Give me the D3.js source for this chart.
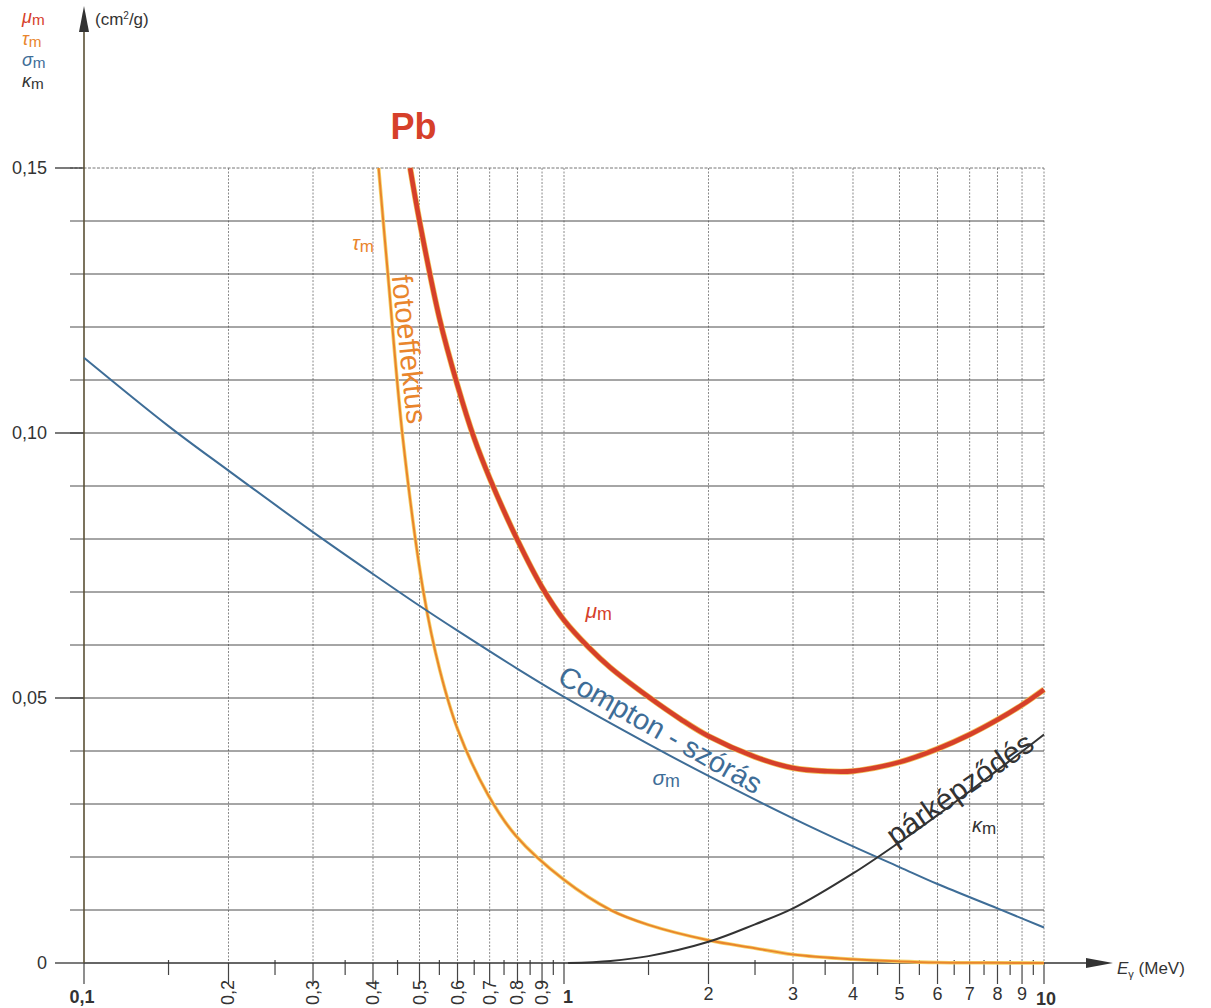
<!DOCTYPE html>
<html><head><meta charset="utf-8">
<script src="https://cdn.jsdelivr.net/npm/d3@7"></script>
<style>body{margin:0;background:#fff}svg{display:block;font-family:"Liberation Sans",Arial,sans-serif}</style>
</head><body><svg id="c" width="1211" height="1008"></svg>
<script>
// ---- data ----
const muE  = [0.478,0.5,0.55,0.6,0.65,0.7,0.8,0.9,1.0,1.13,1.25,1.5,1.75,2.0,2.5,3.0,3.5,4.0,5.0,6.0,7.0,8.0,9.0,10];
const muV  = [0.150,0.140,0.1217,0.109,0.099,0.0915,0.0798,0.0709,0.0647,0.0594,0.0557,0.0502,0.0460,0.0428,0.0389,0.0368,0.0362,0.0362,0.0379,0.0404,0.0431,0.0459,0.0487,0.0516];
const tauE = [0.411,0.43,0.462,0.51,0.551,0.601,0.695,0.794,1.0,1.25,1.5,2.0,2.5,3.0,4.0,5.0,6.0,8.0,10];
const tauV = [0.150,0.1296,0.0987,0.0698,0.0553,0.0440,0.0317,0.0240,0.0157,0.0100,0.0072,0.0043,0.0028,0.0016,0.0007,0.0003,0.0001,0.00003,0.0];
const sigE = [0.1,0.15,0.2,0.3,0.4,0.5,0.6,0.8,1,1.5,2,3,4,5,6,8,10];
const sigV = [0.1142,0.1013,0.0929,0.0813,0.0734,0.0674,0.0627,0.0555,0.0502,0.0413,0.0353,0.0273,0.0220,0.0181,0.0149,0.0103,0.0067];
const kapE = [1.02,1.25,1.5,2,2.5,3,4,5,6,7,8,9,10];
const kapV = [0,0.0004,0.0013,0.0040,0.0073,0.0103,0.0169,0.0228,0.0279,0.0324,0.0364,0.0399,0.0431];

const xGrid      = [0.2,0.3,0.4,0.5,0.6,0.7,0.8,0.9,1,2,3,4,5,6,7,8,9,10];
const xMinor     = [0.15,0.25,0.35,0.45,0.55,0.65,0.75,0.85,0.95,1.5,2.5,3.5,4.5,5.5,6.5,7.5,8.5,9.5];
const xRotTicks  = [0.2,0.3,0.4,0.5,0.6,0.7,0.8,0.9];
const xRotLabels = ["0,2","0,3","0,4","0,5","0,6","0,7","0,8","0,9"];
const xNumTicks  = [2,3,4,5,6,7,8,9];
const xNumLabels = ["2","3","4","5","6","7","8","9"];
const xBoldTicks = [0.1,1,10];
const xBoldLabels= ["0,1","1","10"];
const yGrid      = [0.01,0.02,0.03,0.04,0.05,0.06,0.07,0.08,0.09,0.10,0.11,0.12,0.13,0.14,0.15];
const yMajor     = [0,0.05,0.10,0.15];
const yMajorLbl  = ["0","0,05","0,10","0,15"];

// ---- scales ----
const svg = d3.select("#c");
const x = d3.scaleLog().domain([0.1,10]).range([84,1044]);
const y = d3.scaleLinear().domain([0,0.15]).range([963,168]);

const C = {mu:"#d6402a", tau:"#e9852c", sig:"#3e6d97", kap:"#333333", grid:"#4d4d4d", vgrid:"#8a8a8a"};

// vertical grid (dotted)
svg.append("g").selectAll("line").data(xGrid).join("line")
  .attr("x1",d=>x(d)).attr("x2",d=>x(d)).attr("y1",y(0.15)).attr("y2",y(0))
  .attr("stroke",C.vgrid).attr("stroke-width",1).attr("stroke-dasharray","2,1.5");
// horizontal grid
svg.append("g").selectAll("line").data(yGrid).join("line")
  .attr("x1",x(0.1)-14).attr("x2",x(10)).attr("y1",d=>y(d)).attr("y2",d=>y(d))
  .attr("stroke",d=>d===0.15?"#777":C.grid).attr("stroke-width",1)
  .attr("stroke-dasharray",d=>d===0.15?"3,1.5":null);
// y major tick extensions
svg.append("g").selectAll("line").data(yMajor).join("line")
  .attr("x1",x(0.1)-29).attr("x2",x(0.1)).attr("y1",d=>y(d)).attr("y2",d=>y(d))
  .attr("stroke","#333").attr("stroke-width",1.3);
// x ticks
svg.append("g").selectAll("line").data(xGrid.concat([0.1])).join("line")
  .attr("x1",d=>x(d)).attr("x2",d=>x(d)).attr("y1",y(0)).attr("y2",y(0)+21)
  .attr("stroke","#444").attr("stroke-width",1.2);
svg.append("g").selectAll("line").data(xMinor).join("line")
  .attr("x1",d=>x(d)).attr("x2",d=>x(d)).attr("y1",y(0)-3).attr("y2",y(0)+12)
  .attr("stroke","#444").attr("stroke-width",1.2);

// axes with arrows
svg.append("line").attr("x1",x(0.1)).attr("x2",1092).attr("y1",y(0)).attr("y2",y(0))
  .attr("stroke","#333").attr("stroke-width",1.6);
svg.append("path").attr("d",`M1086,${y(0)-5}L1113,${y(0)}L1086,${y(0)+5}Z`).attr("fill","#333");
svg.append("line").attr("x1",x(0.1)).attr("x2",x(0.1)).attr("y1",y(0)).attr("y2",28)
  .attr("stroke","#5a5035").attr("stroke-width",1.6);
svg.append("path").attr("d",`M${x(0.1)-5},32L${x(0.1)},6L${x(0.1)+5},32Z`).attr("fill","#333");

// y labels
svg.append("g").selectAll("text").data(yMajor).join("text")
  .attr("x",47).attr("y",d=>y(d)+6).attr("text-anchor","end")
  .attr("font-size",18).attr("fill","#333").text((d,i)=>yMajorLbl[i]);
// x labels
svg.append("g").selectAll("text").data(xRotTicks).join("text")
  .attr("transform",d=>`translate(${x(d)+6},980) rotate(-90)`).attr("text-anchor","end")
  .attr("font-size",18).attr("fill","#333").text((d,i)=>xRotLabels[i]);
svg.append("g").selectAll("text").data(xNumTicks).join("text")
  .attr("x",d=>x(d)).attr("y",1000).attr("text-anchor","middle")
  .attr("font-size",18).attr("fill","#333").text((d,i)=>xNumLabels[i]);
svg.append("g").selectAll("text").data(xBoldTicks).join("text")
  .attr("x",(d,i)=>x(d)+(i===0?-2:i===1?4:2)).attr("y",(d,i)=>i===2?1005:1003)
  .attr("text-anchor","middle").attr("font-weight","bold")
  .attr("font-size",18).attr("fill","#333").text((d,i)=>xBoldLabels[i]);

// axis titles
const et = svg.append("text").attr("x",1117).attr("y",974).attr("font-size",17).attr("fill","#333");
et.append("tspan").attr("font-style","italic").text("E");
et.append("tspan").attr("font-size",11).attr("dy",4).text("γ");
et.append("tspan").attr("dy",-4).text(" (MeV)");
const ct = svg.append("text").attr("x",95).attr("y",25).attr("font-size",17).attr("fill","#333");
ct.append("tspan").text("(cm");
ct.append("tspan").attr("font-size",10).attr("dy",-6).text("2");
ct.append("tspan").attr("dy",6).text("/g)");

function greek(px,py,ch,color,size){
  const t = svg.append("text").attr("x",px).attr("y",py).attr("font-size",size).attr("fill",color);
  t.append("tspan").attr("font-style","italic").text(ch);
  t.append("tspan").attr("font-size",size*0.85).attr("dy",size*0.1).text("m");
  return t;
}
// top-left legend
greek(22,23,"μ",C.mu,18);
greek(22,45,"τ",C.tau,18);
greek(22,66,"σ",C.sig,18);
greek(22,87,"κ",C.kap,18);

// curves
const line = d3.line().x(d=>x(d[0])).y(d=>y(d[1])).curve(d3.curveCatmullRom.alpha(0.5));
const zip = (a,b)=>a.map((v,i)=>[v,b[i]]);
svg.append("path").datum(zip(tauE,tauV)).attr("d",line).attr("fill","none").attr("stroke","#f6d36a").attr("stroke-width",3.6);
svg.append("path").datum(zip(tauE,tauV)).attr("d",line).attr("fill","none").attr("stroke",C.tau).attr("stroke-width",2);
svg.append("path").datum(zip(sigE,sigV)).attr("d",line).attr("fill","none").attr("stroke",C.sig).attr("stroke-width",2);
svg.append("path").datum(zip(kapE,kapV)).attr("d",line).attr("fill","none").attr("stroke",C.kap).attr("stroke-width",2);
svg.append("path").datum(zip(muE,muV)).attr("d",line).attr("fill","none").attr("stroke","#f2c25a").attr("stroke-width",6);
svg.append("path").datum(zip(muE,muV)).attr("d",line).attr("fill","none").attr("stroke",C.mu).attr("stroke-width",4.6);

// annotations (anchored in data coordinates)
svg.append("text").attr("x",x(0.435)).attr("y",y(0.1555)).attr("font-size",36).attr("font-weight","bold")
  .attr("fill",C.mu).text("Pb");
greek(x(0.362),y(0.1345),"τ",C.tau,20);
svg.append("text").attr("transform",`translate(${x(0.4375)},${y(0.1296)}) rotate(84)`)
  .attr("font-size",29).attr("fill",C.tau).text("fotoeffektus");
greek(x(1.108),y(0.0651),"μ",C.mu,21);
svg.append("text").attr("transform",`translate(${x(0.962)},${y(0.0530)}) rotate(29.5)`)
  .attr("font-size",29).attr("fill",C.sig).text("Compton - szórás");
greek(x(1.528),y(0.0336),"σ",C.sig,21);
svg.append("text").attr("transform",`translate(${x(4.9)},${y(0.0220)}) rotate(-35)`)
  .attr("font-size",30).attr("fill",C.kap).text("párképződés");
greek(x(7.08),y(0.0247),"κ",C.kap,20);
</script></body></html>
